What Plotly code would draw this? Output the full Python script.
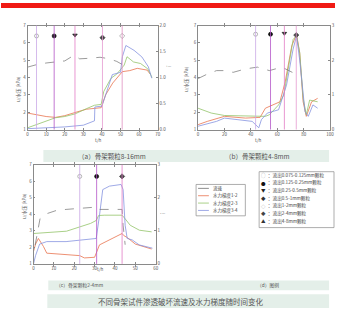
import plotly.graph_objects as go

W, H = 339, 312
FONT = "Noto Sans CJK SC"

# ---------------- data ----------------
series_names = ["流速", "水力梯度1-2", "水力梯度2-3", "水力梯度3-4"]
marker_labels = ["：流出0.075-0.125mm颗粒", "：流出0.125-0.25mm颗粒", "：流出0.25-0.5mm颗粒",
                 "：流出0.5-1mm颗粒", "：流出1-2mm颗粒", "：流出2-4mm颗粒", "：流出4-8mm颗粒"]
marker_glyphs = ["○", "●", "▼", "◆", "◇", "◆", "▲"]

# panel (a)  骨架颗粒8-16mm
a_flow_x = [0, 5, 10, 15, 20, 25, 28, 33, 39, 44, 48, 51, 53]
a_flow_y = [1.20, 1.25, 1.28, 1.30, 1.32, 1.43, 1.36, 1.37, 1.39, 1.36, 1.31, 1.25, 1.33]
a_red_x = [0, 5, 10, 15, 20, 25.5, 31.6, 36, 39.6, 42, 45.8, 51, 55, 59, 64.3, 66]
a_red_y = [1.95, 1.85, 1.75, 1.7, 1.8, 1.98, 2.17, 2.22, 2.26, 3.0, 3.68, 4.34, 4.4, 4.53, 4.43, 4.2]
a_green_x = [0, 5, 10, 15, 20, 25.5, 31.6, 36, 39.6, 41, 44.9, 48, 52, 53.5, 57, 60.8, 64.7, 67]
a_green_y = [1.1, 1.3, 1.5, 1.68, 1.75, 1.9, 2.2, 2.4, 2.45, 3.2, 3.96, 4.2, 4.72, 5.2, 4.9, 4.81, 4.5, 4.0]
a_blue_x = [0, 10, 20, 30, 35, 36, 36.2, 40, 45.6, 50, 51, 52.9, 57.3, 61.5, 65, 66.8]
a_blue_y = [1.05, 1.1, 1.15, 1.25, 1.45, 1.5, 2.3, 2.35, 4.17, 4.3, 5.2, 5.85, 5.57, 5.19, 4.62, 3.96]
a_vline_x = [4.8, 14.3, 25.5, 40.3, 50.9]
a_mark_y = [6.4, 6.4, 6.45, 6.3, 6.4]
a_mark_sym = ["circle-open", "circle", "triangle-down", "diamond", "diamond-open"]

# panel (b)  骨架颗粒4-8mm
b_flow_x = [0, 7, 14, 20, 26.6, 36, 45, 54, 63.5, 72, 74]
b_flow_y = [1.47, 1.6, 1.7, 1.7, 1.65, 1.75, 1.8, 1.7, 1.8, 1.65, 1.6]
b_red_x = [0, 7, 20, 36, 47, 51, 62, 66, 71, 74.6, 77, 79.6, 82, 86, 90.6]
b_red_y = [1.28, 1.47, 1.76, 1.66, 1.7, 2.23, 2.6, 3.75, 5.83, 6.5, 5.4, 2.6, 1.76, 2.6, 2.8]
b_green_x = [0, 10, 20, 35, 51, 54, 61, 65, 68.5, 72, 74.6, 77, 79.6, 82, 84.5, 90.6]
b_green_y = [2.23, 1.95, 1.81, 1.78, 1.76, 1.85, 2.42, 3.0, 4.5, 6.2, 6.4, 5.45, 2.8, 1.85, 2.7, 2.6]
b_blue_x = [0, 14, 20, 41, 46, 48, 52.5, 61, 67, 72, 74.6, 77, 81, 83.5, 87, 90.6]
b_blue_y = [1.19, 1.47, 1.66, 1.47, 1.1, 1.57, 1.95, 2.14, 3.56, 5.64, 6.4, 5.0, 2.04, 1.76, 2.42, 2.23]
b_vline_x = [43.6, 54.9, 65.4, 74.4]
b_mark_y = [6.5, 6.5, 6.55, 6.45]
b_mark_sym = ["circle-open", "circle", "triangle-down", "diamond"]

# panel (c)  骨架颗粒2-4mm
c_flow_x = [0.8, 3.2, 6.5, 11.3, 16, 22.7, 30.8, 31.6, 43.5, 44, 45]
c_flow_y = [0.57, 1.37, 1.52, 1.62, 1.65, 1.69, 1.72, 1.65, 1.65, 1.17, 0.58]
c_red_x = [0, 1, 2.4, 4.9, 6.5, 16, 22.7, 25, 30, 32.4, 38.9, 43.5, 44.5, 46, 50, 55, 58]
c_red_y = [1.75, 2.2, 2.54, 2.05, 1.65, 1.55, 1.5, 1.36, 1.4, 2.15, 2.54, 2.84, 2.7, 2.6, 2.2, 2.0, 1.9]
c_green_x = [0, 8, 16.2, 22.7, 28, 30.8, 32, 35, 40, 43.5, 45, 47.5, 52, 58]
c_green_y = [2.84, 2.9, 2.98, 3.24, 3.45, 3.63, 3.93, 3.95, 3.97, 3.95, 3.73, 3.34, 3.04, 2.94]
c_blue_x = [0, 1, 3, 6.5, 16, 22.7, 30.8, 32.4, 34, 37.3, 43, 44, 45, 46, 48.5, 51.9, 55, 58.4]
c_blue_y = [1.0, 1.5, 2.2, 2.35, 2.35, 2.45, 2.54, 3.93, 5.5, 5.71, 5.81, 5.5, 3.34, 2.54, 2.45, 2.15, 2.05, 1.95]
c_vline_x = [22.7, 31.0, 43.5]
c_mark_y = [6.3, 6.3, 6.3]
c_mark_sym = ["circle-open", "circle", "diamond"]

captions = ["（a）骨架颗粒8-16mm", "（b）骨架颗粒4-8mm", "（c）骨架颗粒2-4mm", "（d）图例"]
fig_title = "不同骨架试件渗透破坏流速及水力梯度随时间变化"

# ---------------- styles ----------------
C_FLOW = "#707070"
C_RED = "#e8734f"
C_GREEN = "#93c46a"
C_BLUE = "#8593e0"
VL_COLORS = ["#c9a8e6", "#b455c8", "#e27cc6", "#e59ad0", "#e090c0"]
MK_COLORS = {"circle-open": "#9a9a9a", "circle": "#111111", "triangle-down": "#222222",
             "diamond": "#444444", "diamond-open": "#999999"}


def X(px):
    return px / W


def Y(py):
    return 1 - py / H


fig = go.Figure()

panels = [
    ("x", "y", "y2", a_flow_x, a_flow_y, a_red_x, a_red_y, a_green_x, a_green_y, a_blue_x, a_blue_y,
     a_vline_x, a_mark_y, a_mark_sym),
    ("x2", "y3", "y4", b_flow_x, b_flow_y, b_red_x, b_red_y, b_green_x, b_green_y, b_blue_x, b_blue_y,
     b_vline_x, b_mark_y, b_mark_sym),
    ("x3", "y5", "y6", c_flow_x, c_flow_y, c_red_x, c_red_y, c_green_x, c_green_y, c_blue_x, c_blue_y,
     c_vline_x, c_mark_y, c_mark_sym),
]

shapes = []
for (xa, ya, ya2, fx, fy, rx, ry, gx, gy, bx, by, vx, my, ms) in panels:
    for i, v in enumerate(vx):
        shapes.append(dict(type="line", xref=xa, yref=ya + " domain", x0=v, x1=v, y0=0, y1=1,
                           line=dict(color=VL_COLORS[i % len(VL_COLORS)], width=0.8)))
    fig.add_trace(go.Scatter(x=rx, y=ry, xaxis=xa, yaxis=ya, mode="lines",
                             line=dict(color=C_RED, width=0.8), showlegend=False))
    fig.add_trace(go.Scatter(x=gx, y=gy, xaxis=xa, yaxis=ya, mode="lines",
                             line=dict(color=C_GREEN, width=0.8), showlegend=False))
    fig.add_trace(go.Scatter(x=bx, y=by, xaxis=xa, yaxis=ya, mode="lines",
                             line=dict(color=C_BLUE, width=0.8), showlegend=False))
    fig.add_trace(go.Scatter(x=fx, y=fy, xaxis=xa, yaxis=ya2, mode="lines",
                             line=dict(color=C_FLOW, width=0.7, dash="dash"), showlegend=False))
    fig.add_trace(go.Scatter(x=vx, y=my, xaxis=xa, yaxis=ya, mode="markers",
                             marker=dict(symbol=ms, size=4, color=[MK_COLORS[s] for s in ms],
                                         line=dict(width=0.7, color=[MK_COLORS[s] for s in ms])),
                             showlegend=False))

axfont = dict(family=FONT, size=4.5, color="#555")
common_x = dict(showline=True, linecolor="#8a8a8a", linewidth=0.8, mirror="allticks", ticks="inside",
                ticklen=2, tickcolor="#8a8a8a", showgrid=False, zeroline=False, tickfont=axfont)
common_y = dict(showline=True, linecolor="#8a8a8a", linewidth=0.8, mirror=True, ticks="inside",
                ticklen=2, tickcolor="#8a8a8a", showgrid=False, zeroline=False, tickfont=axfont,
                range=[1, 7], dtick=1)
common_y2 = dict(showline=True, linecolor="#8a8a8a", linewidth=0.8, ticks="inside", ticklen=2,
                 tickcolor="#8a8a8a", showgrid=False, zeroline=False, tickfont=axfont, side="right")

dom_ab_y = [Y(129), Y(23)]
dom_c_y = [Y(266), Y(165)]

fig.update_layout(
    width=W, height=H, margin=dict(l=0, r=0, t=0, b=0),
    paper_bgcolor="white", plot_bgcolor="white", showlegend=False,
    font=dict(family=FONT, color="#444"),
    xaxis=dict(common_x, domain=[X(27), X(159)], range=[0, 70], dtick=10, anchor="y"),
    yaxis=dict(common_y, domain=dom_ab_y, anchor="x"),
    yaxis2=dict(common_y2, overlaying="y", anchor="x", range=[0, 2],
                tickvals=[0, 0.5, 1, 1.5, 2], ticktext=["0.0", "0.5", "1.0", "1.5", "2.0"]),
    xaxis2=dict(common_x, domain=[X(200), X(334)], range=[0, 100], dtick=20, anchor="y3"),
    yaxis3=dict(common_y, domain=dom_ab_y, anchor="x2"),
    yaxis4=dict(common_y2, overlaying="y3", anchor="x2", range=[0, 3], dtick=1),
    xaxis3=dict(common_x, domain=[X(33), X(157)], range=[0, 60], dtick=10, anchor="y5"),
    yaxis5=dict(common_y, domain=dom_c_y, anchor="x3"),
    yaxis6=dict(common_y2, overlaying="y5", anchor="x3", range=[0, 3], dtick=1),
)

# background bands
shapes.append(dict(type="rect", xref="paper", yref="paper", x0=0, x1=1, y0=Y(5), y1=1,
                   fillcolor="#f01a14", line=dict(width=0), layer="below"))
for (x0, x1, y0, y1) in [(43, 333, 150, 162), (48, 333, 283, 293), (47, 333, 297, 311)]:
    shapes.append(dict(type="rect", xref="paper", yref="paper", x0=X(x0), x1=X(x1), y0=Y(y1), y1=Y(y0),
                       fillcolor="#e4efe9", line=dict(width=0), layer="below"))

# manual legend boxes
shapes.append(dict(type="rect", xref="paper", yref="paper", x0=X(198), x1=X(248), y0=Y(217), y1=Y(185),
                   fillcolor="white", line=dict(color="#8a8a8a", width=0.7)))
shapes.append(dict(type="rect", xref="paper", yref="paper", x0=X(262), x1=X(338), y0=Y(229), y1=Y(172),
                   fillcolor="white", line=dict(color="#8a8a8a", width=0.7)))

annotations = []
leg_colors = [C_FLOW, C_RED, C_GREEN, C_BLUE]
leg_rows = [189, 196.5, 204, 211.5]
for name, col, py in zip(series_names, leg_colors, leg_rows):
    shapes.append(dict(type="line", xref="paper", yref="paper", x0=X(200), x1=X(211), y0=Y(py), y1=Y(py),
                       line=dict(color=col, width=0.8)))
    annotations.append(dict(x=X(213), y=Y(py), xref="paper", yref="paper", text=name, showarrow=False,
                            xanchor="left", yanchor="middle", font=dict(family=FONT, size=4.5, color="#444")))

mk_rows = [175.5, 183.3, 191, 199, 206.7, 214.3, 222.3]
mk_cols = ["#9a9a9a", "#111", "#222", "#333", "#999", "#444", "#333"]
for g, lab, col, py in zip(marker_glyphs, marker_labels, mk_cols, mk_rows):
    annotations.append(dict(x=X(266), y=Y(py), xref="paper", yref="paper", text=g, showarrow=False,
                            xanchor="center", yanchor="middle", font=dict(family=FONT, size=4.5, color=col)))
    annotations.append(dict(x=X(269), y=Y(py), xref="paper", yref="paper", text=lab, showarrow=False,
                            xanchor="left", yanchor="middle", font=dict(family=FONT, size=4.6, color="#444")))

# axis titles
for (px, py) in [(12, 72), (189, 62), (18, 222)]:
    annotations.append(dict(x=X(px), y=Y(py), xref="paper", yref="paper", text="u/水压 (kPa)",
                            textangle=-90, showarrow=False, font=dict(family=FONT, size=4.5, color="#555")))
for (px, py) in [(171, 62), (165, 217)]:
    annotations.append(dict(x=X(px), y=Y(py), xref="paper", yref="paper", text="i",
                            textangle=-90, showarrow=False, font=dict(family=FONT, size=4.5, color="#555")))
for (px, py) in [(93, 140), (267, 140), (95, 276)]:
    annotations.append(dict(x=X(px), y=Y(py), xref="paper", yref="paper", text="t/h",
                            showarrow=False, font=dict(family=FONT, size=4.5, color="#555")))

# captions
for text, px, py, sz in [(captions[0], 113, 156, 6.5), (captions[1], 260, 156, 6.5),
                         (captions[2], 80, 288, 4.8), (captions[3], 271, 288, 4.8),
                         (fig_title, 182, 304, 7.5)]:
    annotations.append(dict(x=X(px), y=Y(py), xref="paper", yref="paper", text=text, showarrow=False,
                            xanchor="center", yanchor="middle", font=dict(family=FONT, size=sz, color="#555")))

fig.update_layout(shapes=shapes, annotations=annotations)
fig.write_html("out.html", config={"displayModeBar": False},
               post_script="document.body.style.margin='0';document.body.style.overflow='hidden';")
